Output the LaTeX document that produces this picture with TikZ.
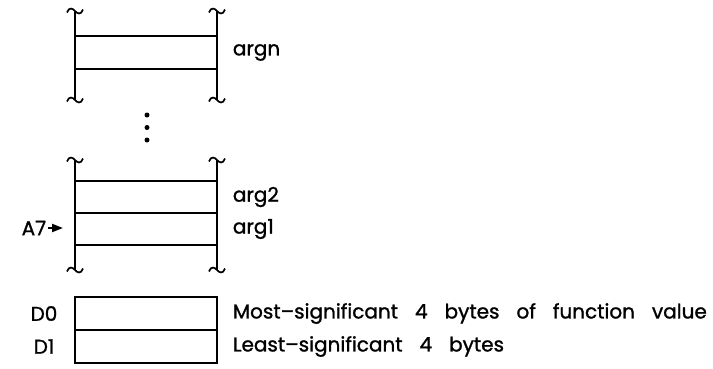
\documentclass[tikz,border=0pt]{standalone}
\usepackage{fontspec}
\setmainfont{Poppins}[FakeBold=1.2]
\usetikzlibrary{arrows.meta}
\newcommand\widesp{\spaceskip=17pt plus 1pt\relax}
\begin{document}
\begin{tikzpicture}[x=1pt,y=-1pt,line width=1.8pt,
  lbl/.style={font=\fontsize{20}{24}\selectfont\widesp, anchor=west, inner sep=0pt},
  reg/.style={font=\fontsize{20}{24}\selectfont, inner sep=0pt},
  cell/.style={draw, minimum width=142pt, minimum height=33pt, inner sep=0pt, line width=1.8pt},
  squig/.pic={\draw[line width=1.7pt] (-8,1.5) .. controls (-6,-4.5) and (-2,-2.5) .. (0,0) .. controls (2,2.5) and (6,4.5) .. (8,-1.5);}]
\useasboundingbox (0,0) rectangle (713,368);
% top block
\node[cell] (argn) at (146,52.5) {};
\coordinate (tl1) at (75,11); \coordinate (bl1) at (75,100);
\coordinate (tr1) at (217,11); \coordinate (br1) at (217,100);
\draw (tl1) -- (bl1); \draw (tr1) -- (br1);
\pic at (tl1) {squig}; \pic at (bl1) {squig};
\pic at (tr1) {squig}; \pic at (br1) {squig};
\node[lbl] (targn) at (232,52.5) {argn};
% dots
\foreach \yy in {115,127.5,140} \fill (147,\yy) circle (2.5pt);
% second block
\node[cell,minimum height=32pt] (arg2) at (146,197) {};
\node[cell,minimum height=32pt] (arg1) at (146,229) {};
\coordinate (tl2) at (75,160); \coordinate (bl2) at (75,270);
\coordinate (tr2) at (217,160); \coordinate (br2) at (217,270);
\draw (tl2) -- (bl2); \draw (tr2) -- (br2);
\pic at (tl2) {squig}; \pic at (bl2) {squig};
\pic at (tr2) {squig}; \pic at (br2) {squig};
\node[lbl] (targ2) at (232,197) {arg2};
\node[lbl] (targ1) at (232,229) {arg1};
\node[reg,anchor=east] (a7) at (47,228) {A7};
\coordinate (a7tip) at (63,228);
\draw[line width=2pt,-{Triangle[length=11pt,width=8pt]}] ([xshift=1pt]a7.east) -- (a7tip);
% registers
\node[cell] (d0) at (146,313.5) {};
\node[cell] (d1) at (146,346.5) {};
\node[reg] (td0) at (44,313.5) {D0};
\node[reg] (td1) at (44,346.5) {D1};
\node[lbl] (tmost) at (232,313.5) {Most--significant 4 bytes of function value};
\node[lbl] (tleast) at (232,346.5) {Least--significant 4 bytes};
\end{tikzpicture}
\end{document}
